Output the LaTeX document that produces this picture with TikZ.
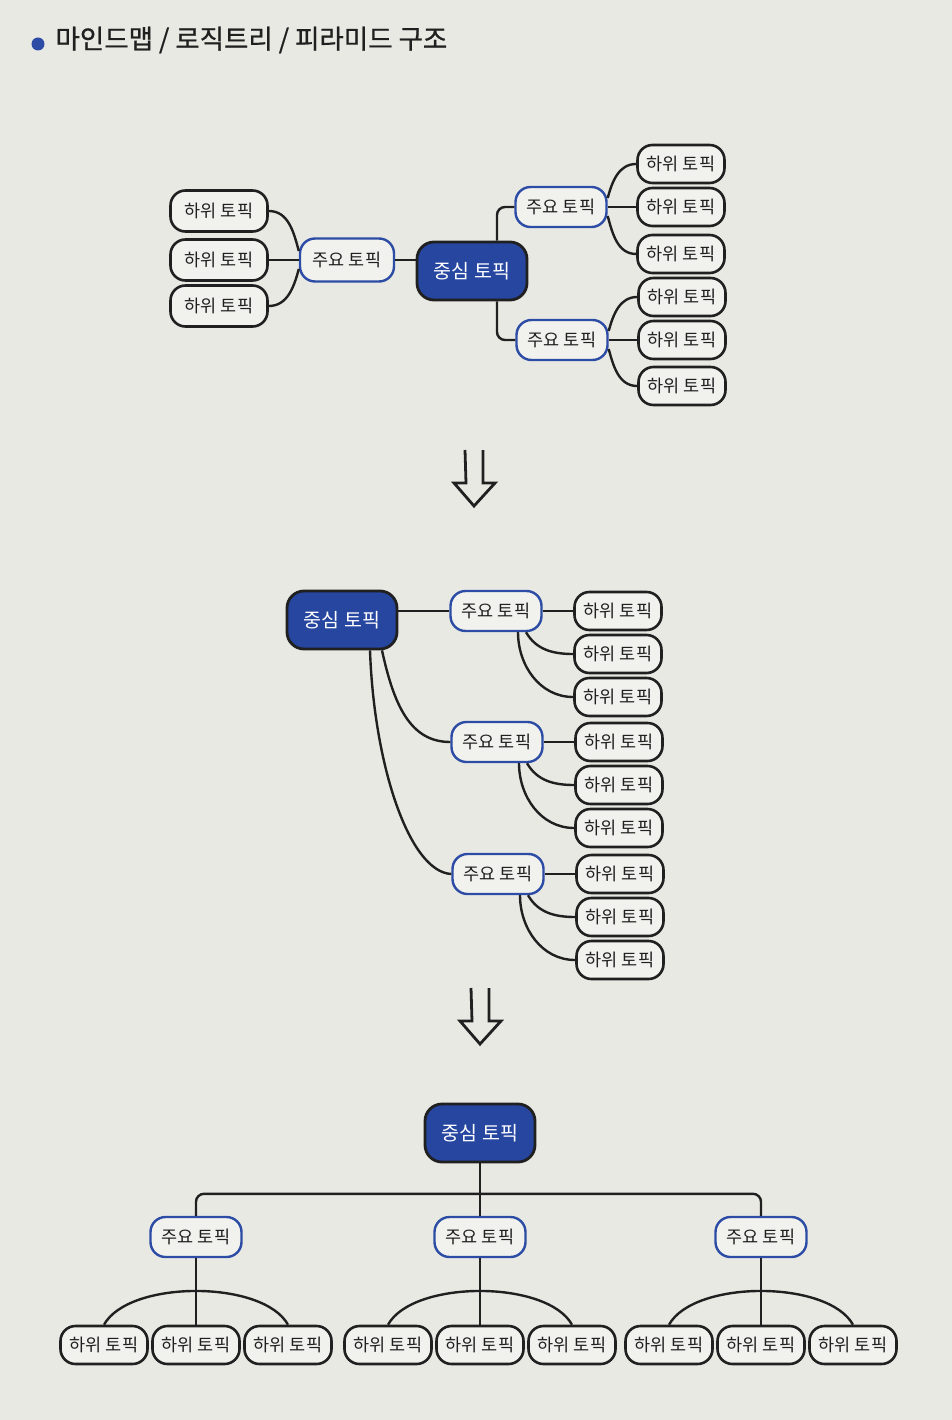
\documentclass[tikz,border=0pt]{standalone}
\usepackage{fontspec}
\setmainfont{Noto Sans CJK KR}
\newfontfamily\titlefont{Noto Sans CJK KR}[FakeBold=0.8]
\definecolor{paper}{RGB}{233,233,228}
\definecolor{boxfill}{RGB}{241,241,237}
\definecolor{hubblue}{RGB}{38,70,160}
\definecolor{ringblue}{RGB}{44,76,165}
\definecolor{ink}{RGB}{32,32,32}

\begin{document}
\begin{tikzpicture}[x=1pt,y=1pt,
  link/.style={draw=ink,line width=2.4pt},
  hub/.style={draw=ink,fill=hubblue,text=white,line width=2.8pt,rounded corners=17pt,
    minimum width=110pt,minimum height=58pt,inner sep=0pt,font=\fontsize{19.5}{22}\selectfont},
  major/.style={draw=ringblue,fill=boxfill,text=ink,line width=2.4pt,rounded corners=15pt,
    minimum width=91pt,minimum height=40pt,inner sep=0pt,font=\fontsize{17.5}{20}\selectfont},
  minor/.style={draw=ink,fill=boxfill,text=ink,line width=2.6pt,rounded corners=15pt,
    minimum width=87pt,minimum height=38pt,inner sep=0pt,font=\fontsize{17.5}{20}\selectfont}]

  \fill[paper] (0,0) rectangle (952,-1420);
  \useasboundingbox (0,0) rectangle (952,-1420);

  %% heading
  \fill[ringblue] (38,-44) circle (6.5);
  \node[anchor=west,text=ink,font=\titlefont\fontsize{26.5}{30}\selectfont] (title) at (52,-40)
    {마인드맵 / 로직트리 / 피라미드 구조};

  %% mind map
  \node[hub] (c1) at (472,-271) {중심 토픽};
  \node[major,minimum width=94pt,minimum height=43pt] (l1) at (347,-260) {주요 토픽};
  \foreach \i/\y in {1/-211,2/-260,3/-306}
    \node[minor,minimum width=97pt,minimum height=41pt] (l1\i) at (219,\y) {하위 토픽};
  \node[major] (r1) at (561,-207) {주요 토픽};
  \node[major] (r2) at (562,-340) {주요 토픽};
  \foreach \i/\y in {1/-164,2/-207,3/-254}
    \node[minor] (r1\i) at (681,\y) {하위 토픽};
  \foreach \i/\y in {1/-297,2/-340,3/-386}
    \node[minor] (r2\i) at (682,\y) {하위 토픽};

  \draw[link] (l1.east) -- (l1.east -| c1.west);
  \draw[link] ([yshift=9pt]l1.west) to[out=105,in=0] (l11.east);
  \draw[link] (l1.west) -- (l12.east);
  \draw[link] ([yshift=-9pt]l1.west) to[out=-105,in=0] (l13.east);
  \draw[link,rounded corners=8pt] ([xshift=25pt]c1.north) |- (r1.west);
  \draw[link,rounded corners=8pt] ([xshift=25pt]c1.south) |- (r2.west);
  \foreach \m in {r1,r2} {
    \draw[link] ([yshift=9pt]\m.east) to[out=75,in=180] (\m1.west);
    \draw[link] (\m.east) -- (\m2.west);
    \draw[link] ([yshift=-9pt]\m.east) to[out=-75,in=180] (\m3.west);
  }

  %% arrows between the three forms
  \foreach \ax/\ay in {474/-450,480/-988}
    \draw[link,line width=2.8pt,line join=miter]
      (\ax-9,\ay) -- (\ax-8,\ay-33) -- (\ax-20,\ay-33) -- (\ax,\ay-56)
      -- (\ax+21,\ay-33) -- (\ax+9,\ay-33) -- (\ax+9,\ay);

  %% logic tree
  \node[hub] (c2) at (342,-620) {중심 토픽};
  \foreach \i/\x/\y in {1/496/-611,2/497/-742,3/498/-874} {
    \node[major] (m\i) at (\x,\y) {주요 토픽};
    \foreach \j/\dy in {1/0,2/43,3/86}
      \node[minor] (m\i\j) at (\x+122,\y-\dy) {하위 토픽};
  }

  \draw[link] (m1.west) -- (m1.west -| c2.east);
  \draw[link] ([xshift=40pt]c2.south) .. controls +(12,-55) and +(-40,0) .. (m2.west);
  \draw[link] ([xshift=28pt]c2.south) .. controls +(4,-115) and +(-42,2) .. (m3.west);
  \foreach \i in {1,2,3} {
    \draw[link] (m\i.east) -- (m\i1.west);
    \draw[link] ([xshift=30pt]m\i.south) to[out=-60,in=180] (m\i2.west);
    \draw[link] ([xshift=22pt]m\i.south) to[out=-90,in=180] (m\i3.west);
  }

  %% pyramid
  \node[hub] (c3) at (480,-1133) {중심 토픽};
  \foreach \i/\x in {1/196,2/480,3/761} {
    \node[major] (p\i) at (\x,-1237) {주요 토픽};
    \foreach \j/\dx in {1/-92,2/0,3/92}
      \node[minor] (p\i\j) at (\x+\dx,-1345) {하위 토픽};
  }

  \draw[link,rounded corners=8pt] (p1.north) -- ++(0,22) -| (p3.north);
  \draw[link] (c3.south) -- (p2.north);
  \foreach \i in {1,2,3} {
    \draw[link] (p\i.south) -- (p\i2.north);
    \draw[link] (p\i1.north) .. controls +(25,45) and +(-25,45) .. (p\i3.north);
  }
\end{tikzpicture}
\end{document}
